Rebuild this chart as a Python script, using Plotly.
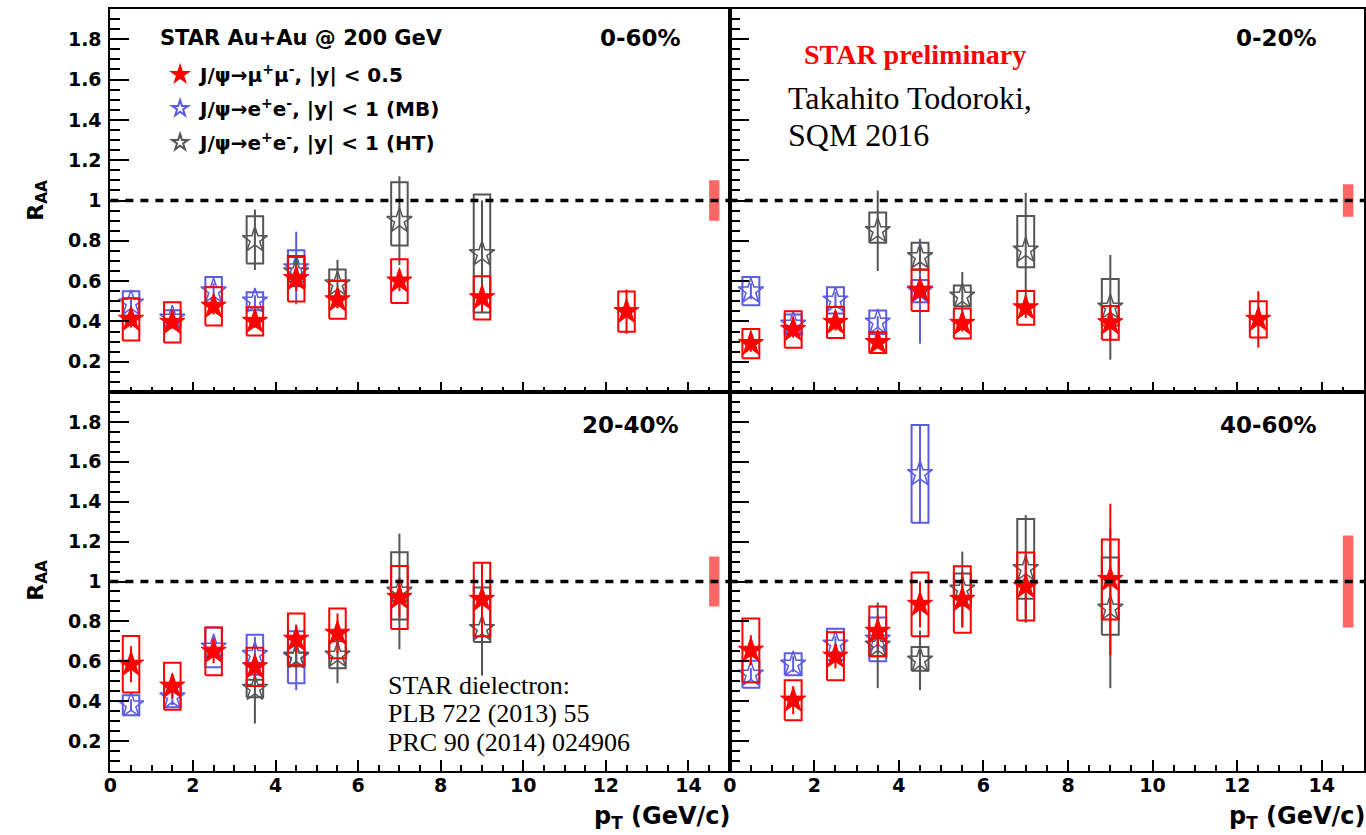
import plotly.graph_objects as go

W, H = 1366, 835

# ---------------- data ----------------
X_MUMU = [0.5, 1.5, 2.5, 3.5, 4.5, 5.5, 7, 9, 12.5]
X_MB = [0.5, 1.5, 2.5, 3.5, 4.5]
X_HT = [3.5, 4.5, 5.5, 7, 9]

PANELS = ["0-60%", "0-20%", "20-40%", "40-60%"]

# J/psi -> mu mu (red)
mumu_y = {
    "0-60%": [0.41, 0.395, 0.475, 0.40, 0.612, 0.507, 0.60, 0.517, 0.449],
    "0-20%": [0.29, 0.36, 0.395, 0.295, 0.555, 0.39, 0.467, 0.393, 0.41],
    "20-40%": [0.585, 0.475, 0.65, 0.572, 0.71, 0.74, 0.92, 0.91],
    "40-60%": [0.655, 0.405, 0.625, 0.75, 0.885, 0.91, 0.975, 1.01],
}
mumu_stat = {
    "0-60%": [0.04, 0.03, 0.04, 0.03, 0.06, 0.04, 0.05, 0.07, 0.11],
    "0-20%": [0.04, 0.04, 0.04, 0.03, 0.06, 0.04, 0.05, 0.09, 0.14],
    "20-40%": [0.09, 0.06, 0.06, 0.06, 0.07, 0.10, 0.10, 0.187],
    "40-60%": [0.075, 0.07, 0.06, 0.08, 0.115, 0.14, 0.16, 0.38],
}
mumu_sys = {
    "0-60%": [0.105, 0.10, 0.095, 0.07, 0.113, 0.094, 0.108, 0.107, 0.10],
    "0-20%": [0.073, 0.09, 0.077, 0.052, 0.103, 0.074, 0.084, 0.084, 0.09],
    "20-40%": [0.142, 0.118, 0.12, 0.096, 0.13, 0.125, 0.158, 0.184],
    "40-60%": [0.16, 0.10, 0.12, 0.125, 0.16, 0.167, 0.17, 0.20],
}

# J/psi -> e e, MB (blue)
mb_y = {
    "0-60%": [0.49, 0.415, 0.55, 0.50, 0.665],
    "0-20%": [0.55, 0.385, 0.505, 0.396, 0.55],
    "20-40%": [0.38, 0.42, 0.67, 0.633, 0.62],
    "40-60%": [0.535, 0.585, 0.685, 0.71, 1.54],
}
mb_stat = {
    "0-60%": [0.03, 0.03, 0.04, 0.03, 0.18],
    "0-20%": [0.04, 0.03, 0.04, 0.03, 0.26],
    "20-40%": [0.03, 0.04, 0.05, 0.09, 0.165],
    "40-60%": [0.03, 0.04, 0.04, 0.07, 0.25],
}
mb_sys = {
    "0-60%": [0.06, 0.04, 0.07, 0.045, 0.088],
    "0-20%": [0.07, 0.05, 0.065, 0.058, 0.055],
    "20-40%": [0.05, 0.05, 0.10, 0.10, 0.13],
    "40-60%": [0.068, 0.055, 0.078, 0.11, 0.245],
}

# J/psi -> e e, HT (gray)
ht_y = {
    "0-60%": [0.805, 0.645, 0.585, 0.90, 0.735],
    "0-20%": [0.85, 0.72, 0.525, 0.753, 0.47],
    "20-40%": [0.463, 0.625, 0.63, 0.95, 0.763],
    "40-60%": [0.68, 0.605, 0.96, 1.063, 0.865],
}
ht_stat = {
    "0-60%": [0.15, 0.08, 0.12, 0.22, 0.265],
    "0-20%": [0.20, 0.08, 0.12, 0.285, 0.26],
    "20-40%": [0.175, 0.06, 0.14, 0.29, 0.235],
    "40-60%": [0.215, 0.15, 0.19, 0.27, 0.40],
}
ht_sys_up = {
    "0-60%": [0.117, 0.075, 0.073, 0.19, 0.295],
    "0-20%": [0.09, 0.07, 0.053, 0.17, 0.14],
    "20-40%": [0.045, 0.05, 0.07, 0.197, 0.207],
    "40-60%": [0.035, 0.067, 0.08, 0.25, 0.255],
}
ht_sys_dn = {
    "0-60%": [0.118, 0.07, 0.07, 0.123, 0.29],
    "0-20%": [0.06, 0.063, 0.05, 0.084, 0.09],
    "20-40%": [0.043, 0.05, 0.065, 0.14, 0.066],
    "40-60%": [0.055, 0.053, 0.08, 0.15, 0.132],
}

# global (normalisation) uncertainty, drawn at pT = 14.625
GLOBAL_X = 14.625
global_unc = {"0-60%": 0.10, "0-20%": 0.08, "20-40%": 0.125, "40-60%": 0.23}

# ---------------- style ----------------
RED = "#ff0000"
BLUE = "#5b5be3"
GRAY = "#555555"
GLOBAL = "#ff6666"
BOX_HW = 0.2
GLOBAL_HW = 0.125
SANS = "DejaVu Sans, Liberation Sans, Arial, sans-serif"
SERIF = "Liberation Serif, Times New Roman, serif"

fig = go.Figure()

axes = {"0-60%": ("x", "y"), "0-20%": ("x2", "y2"), "20-40%": ("x3", "y3"), "40-60%": ("x4", "y4")}


def boxes(xs, ys, up, dn):
    bx, by = [], []
    for x, y, u, d in zip(xs, ys, up, dn):
        bx += [x - BOX_HW, x + BOX_HW, x + BOX_HW, x - BOX_HW, x - BOX_HW, None]
        by += [y - d, y - d, y + u, y + u, y - d, None]
    return bx, by


for p in PANELS:
    xa, ya = axes[p]
    first = p == "0-60%"
    # global uncertainty
    g = global_unc[p]
    fig.add_trace(go.Scatter(
        x=[GLOBAL_X - GLOBAL_HW, GLOBAL_X + GLOBAL_HW, GLOBAL_X + GLOBAL_HW, GLOBAL_X - GLOBAL_HW, GLOBAL_X - GLOBAL_HW],
        y=[1 - g, 1 - g, 1 + g, 1 + g, 1 - g], fill="toself", fillcolor=GLOBAL,
        mode="lines", line=dict(width=0, color=GLOBAL), showlegend=False, hoverinfo="skip",
        xaxis=xa, yaxis=ya))

    series = [
        ("mb", X_MB, mb_y[p], mb_stat[p], mb_sys[p], mb_sys[p], BLUE, "star-open",
         "J/ψ→e<sup>+</sup>e<sup>-</sup>, |y| < 1 (MB)", 2),
        ("ht", X_HT, ht_y[p], ht_stat[p], ht_sys_up[p], ht_sys_dn[p], GRAY, "star-open",
         "J/ψ→e<sup>+</sup>e<sup>-</sup>, |y| < 1 (HT)", 3),
        ("mumu", X_MUMU, mumu_y[p], mumu_stat[p], mumu_sys[p], mumu_sys[p], RED, "star",
         "J/ψ→μ<sup>+</sup>μ<sup>-</sup>, |y| < 0.5", 1),
    ]
    for key, xs, ys, st, su, sd, col, sym, name, rank in series:
        bx, by = boxes(xs, ys, su, sd)
        fig.add_trace(go.Scatter(x=bx, y=by, mode="lines", line=dict(color=col, width=2),
                                 showlegend=False, hoverinfo="skip", xaxis=xa, yaxis=ya))
        fig.add_trace(go.Scatter(
            x=xs, y=ys, mode="markers", name=name, legendrank=rank, legendgroup=key,
            showlegend=first,
            marker=dict(symbol=sym, size=19, color=col,
                        line=dict(color=col, width=1 if sym == "star" else 1.5)),
            error_y=dict(type="data", array=st, width=0, thickness=2, color=col),
            xaxis=xa, yaxis=ya))

# ---------------- layout ----------------
xl = [104 / W, 727 / W]
xr = [727 / W, 1365 / W]
yt = [1 - 392 / H, 1 - 9 / H]
yb = [1 - 771 / H, 1 - 392 / H]

tickfont = dict(family=SANS, size=19, color="black", weight="bold")


def xaxis(domain, anchor, labels):
    return dict(domain=domain, anchor=anchor, range=[0, 15], dtick=2, tick0=0,
                ticks="inside", ticklen=11 if labels else 10, tickwidth=2, tickcolor="black",
                minor=dict(dtick=0.5, tick0=0, ticks="inside", ticklen=6 if labels else 5,
                           tickwidth=1.5, tickcolor="black"),
                showticklabels=labels, tickfont=tickfont, ticklabelstandoff=-4,
                showline=True, linewidth=2, linecolor="black", mirror=True,
                showgrid=False, zeroline=False, fixedrange=True)


def yaxis(domain, anchor, labels):
    return dict(domain=domain, anchor=anchor, range=[0.05, 1.95], dtick=0.2, tick0=0,
                ticks="inside", ticklen=19, tickwidth=2, tickcolor="black",
                minor=dict(dtick=0.05, tick0=0, ticks="inside", ticklen=10,
                           tickwidth=1.5, tickcolor="black"),
                showticklabels=labels, tickfont=tickfont, ticklabelstandoff=3,
                showline=True, linewidth=2, linecolor="black", mirror=True,
                showgrid=False, zeroline=False, fixedrange=True)


fig.update_layout(
    width=W, height=H, margin=dict(l=0, r=0, t=0, b=0),
    paper_bgcolor="white", plot_bgcolor="white",
    xaxis=xaxis(xl, "y", False), yaxis=yaxis(yt, "x", True),
    xaxis2=xaxis(xr, "y2", False), yaxis2=yaxis(yt, "x2", False),
    xaxis3=xaxis(xl, "y3", True), yaxis3=yaxis(yb, "x3", True),
    xaxis4=xaxis(xr, "y4", True), yaxis4=yaxis(yb, "x4", False),
    legend=dict(x=154 / W, y=1 - 55 / H, xanchor="left", yanchor="top",
                bgcolor="rgba(0,0,0,0)", borderwidth=0,
                font=dict(family=SANS, size=20, color="black", weight="bold"),
                traceorder="grouped", tracegroupgap=5, itemsizing="constant"),
    showlegend=True,
)

# reference line R_AA = 1
for xa, ya in axes.values():
    fig.add_shape(type="line", xref=f"{xa} domain", yref=ya, x0=0, x1=1, y0=1, y1=1,
                  line=dict(color="black", width=3.5, dash="8px,7px"), layer="above")


def P(px, py):
    return px / W, 1 - py / H


def ann(text, px, py, size, family=SANS, color="black", xanchor="left", angle=0, bold=False):
    x, y = P(px, py)
    fig.add_annotation(text=text, x=x, y=y, xref="paper", yref="paper", showarrow=False,
                       xanchor=xanchor, yanchor="middle", textangle=angle,
                       font=dict(family=family, size=size, color=color,
                                 weight="bold" if bold else "normal"))


# legend header
ann("STAR Au+Au @ 200 GeV", 152, 38, 21, bold=True)

# centrality labels
ann("0-60%", 680, 38, 23, xanchor="right", bold=True)
ann("0-20%", 1320, 38, 23, xanchor="right", bold=True)
ann("20-40%", 678, 425, 23, xanchor="right", bold=True)
ann("40-60%", 1320, 425, 23, xanchor="right", bold=True)

ann("STAR preliminary", 800, 55, 28, family=SERIF, color=RED, bold=True)
ann("Takahito Todoroki,", 784, 98, 32, family=SERIF)
ann("SQM 2016", 784, 135, 32, family=SERIF)

ann("STAR dielectron:", 381, 685, 26, family=SERIF)
ann("PLB 722 (2013) 55", 381, 713, 26, family=SERIF)
ann("PRC 90 (2014) 024906", 381, 742, 26, family=SERIF)

# axis titles
ann("R<sub>AA</sub>", 30, 200, 22, xanchor="center", angle=-90, bold=True)
ann("R<sub>AA</sub>", 30, 580, 22, xanchor="center", angle=-90, bold=True)
ann("p<sub>T</sub> (GeV/c)", 729, 817, 24, xanchor="right", bold=True)
ann("p<sub>T</sub> (GeV/c)", 1368, 817, 24, xanchor="right", bold=True)

fig.write_html("out.html")
